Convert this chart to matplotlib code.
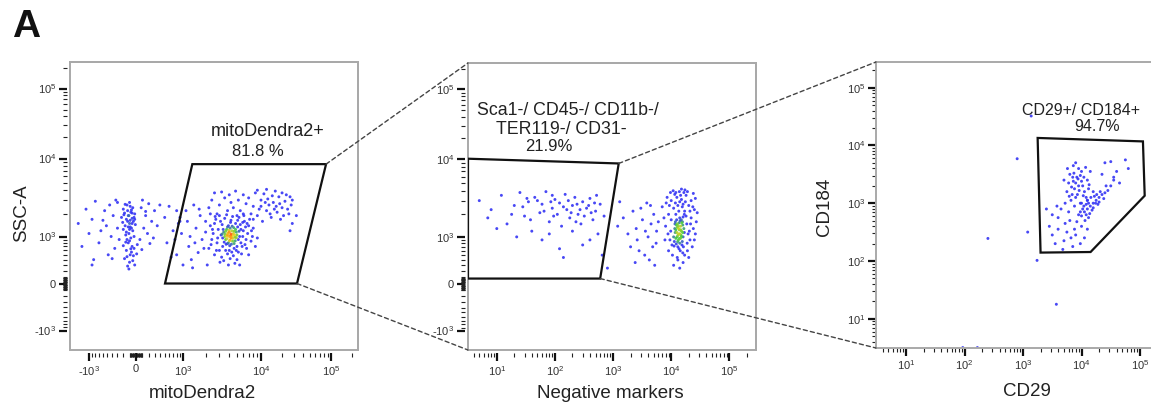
import numpy as np
import matplotlib
matplotlib.use('Agg')
import matplotlib.pyplot as plt
from matplotlib.patches import Polygon, ConnectionPatch, Rectangle
from matplotlib.colors import LinearSegmentedColormap
from matplotlib.ticker import NullFormatter

plt.rcParams['font.family'] = ['Liberation Sans', 'DejaVu Sans']
plt.rcParams['mathtext.fontset'] = 'custom'
plt.rcParams['mathtext.rm'] = 'Liberation Sans'
plt.rcParams['mathtext.it'] = 'Liberation Sans:italic'
plt.rcParams['mathtext.bf'] = 'Liberation Sans:bold'

# ---------------- data ----------------
panel_title = "A"
x_labels = ["mitoDendra2", "Negative markers", "CD29"]
y_labels = ["SSC-A", None, "CD184"]
gate_labels = [["mitoDendra2+", "81.8 %"],
               ["Sca1-/ CD45-/ CD11b-/", "TER119-/ CD31-", "21.9%"],
               ["CD29+/ CD184+", "94.7%"]]

biex_major = [-1e3, 0, 1e3, 1e4, 1e5]
biex_major_labels = ['-10$^3$', '0', '10$^3$', '10$^4$', '10$^5$']
log_major = [1e1, 1e2, 1e3, 1e4, 1e5]
log_major_labels = ['10$^1$', '10$^2$', '10$^3$', '10$^4$', '10$^5$']

# Panel 1 events: (mitoDendra2, SSC-A)
mito_events = [
    # left (Dendra2-negative) cluster
    (-120,1900),(-80,2100),(-150,1700),(-60,1500),(-200,2300),(-100,1250),(-30,1800),(-170,1400),(-90,1650),(-140,2600),
    (-50,2400),(-110,1100),(-190,1950),(-70,1300),(-20,2000),(-130,2200),(-160,1050),(-40,1600),(-100,2800),(-210,1550),
    (-80,950),(-120,1350),(-60,1750),(-180,2050),(-10,1450),(-150,1150),(-90,2500),(-230,1800),(-50,1200),(-130,1600),
    (-70,2250),(-110,1900),(-30,1000),(-170,2650),(-200,1250),(-100,1500),(-60,2050),(-140,900),(-20,1700),(-90,1350),
    (-120,800),(-60,700),(-150,600),(-90,500),(-30,650),(-180,420),(-100,350),(-40,480),(-130,280),(-70,560),
    (20,750),(-200,720),(-110,230),(-50,380),(-160,820),(10,520),(-80,640),(-140,460),(-20,300),(-100,860),
    (-450,2600),(-380,1900),(-520,1400),(-300,2800),(-650,1200),(-420,1000),(-350,650),(-560,2200),(-300,1300),(-700,800),
    (-480,500),(-330,3000),(-600,1650),(-270,900),(-400,420),
    (80,2400),(150,1900),(120,1300),(200,2700),(60,900),(250,1600),(180,1100),(100,3000),(300,2200),(90,620),
    (220,780),(350,1400),(150,2150),(400,2600),(280,950),
    (-1400,1500),(-1100,2300),(-900,1700),(-800,2900),(-1000,1100),(-1250,700),(-850,400),(-900,300),
    (500,1800),(600,2500),(700,1200),(800,2200),(550,800),(650,450),(900,1600),
    # main cluster core
    (4000,1000),(4200,950),(3800,1050),(4500,1100),(3600,900),(4300,1200),(3900,800),(4700,980),(3400,1150),(5000,1050),
    (4100,1300),(3700,1250),(4400,850),(3500,1000),(4800,1250),(4000,1150),(3300,950),(5200,900),(4600,780),(3800,1350),
    (4200,1080),(3600,1180),(4900,1150),(4100,880),(3950,1220),(4350,1020),(3750,930),(4550,1320),(3450,820),(5300,1180),
    (4050,720),(3850,1120),(4650,1050),(3550,1080),(4250,760),(5100,1350),(3350,1250),(4450,940),(3650,760),(4750,860),
    (3900,1400),(4150,1030),(3700,1020),(4600,1180),(4000,860),(5400,1000),(3250,1080),(4350,1380),(3800,780),(4900,960),
    # main cluster ring
    (2500,1100),(2800,800),(2300,1400),(3000,600),(2700,1700),(6000,1200),(6500,900),(7000,1400),(5800,700),(6200,1600),
    (2600,500),(3200,450),(3800,520),(4500,480),(5200,560),(5600,800),(6800,1100),(7500,850),(8000,1300),(3100,1600),
    (3500,1750),(4200,1650),(4800,1500),(5500,1450),(6100,1900),(2400,900),(2900,1250),(3300,700),(4000,600),(4600,650),
    (5000,700),(5900,1000),(6600,650),(7200,1700),(2200,650),(2600,1500),(3000,1900),(3700,1950),(4400,1850),(5300,1800),
    (6400,1350),(2750,600),(3400,380),(4100,420),(5000,400),(5700,520),(7800,1000),(8500,700),(2450,1250),(3150,1050),
    (3600,600),(4300,560),(4900,600),(5600,1250),(6300,750),(7000,500),(2850,950),(3050,350),(3900,300),(4700,330),
    (5400,300),(2350,750),(6700,1500),(7600,1200),(9000,950),(2650,1850),(3250,1450),(4150,1550),(5100,1650),(5900,1550),
    # upper-right diffuse part
    (8000,2500),(10000,3000),(12000,2200),(15000,2800),(9000,1900),(18000,3300),(20000,2400),(11000,3600),(14000,1800),(7000,3200),
    (22000,2900),(25000,2000),(16000,3900),(13000,2600),(9500,2300),(19000,1700),(27000,2600),(8500,3700),(12500,3100),(17000,2100),
    (6500,2700),(23000,3500),(10500,1600),(14500,3400),(21000,1900),(7500,2000),(11500,2800),(28000,3000),(16500,2500),(9000,4000),
    (13500,2000),(24000,2300),(6000,3500),(18500,2700),(20000,3700),(8000,1700),(15500,2300),(26000,3300),(12000,4100),(10000,2500),
    (3000,2600),(3500,3200),(4200,2800),(2600,3700),(4800,3900),(3800,2200),(5200,3000),(2200,2400),(4500,2400),(5500,2200),
    (3200,3800),(4000,3500),(2800,2000),(6000,2000),(5000,1900),(2400,3000),
    (28000,1500),(32000,1900),(26000,1200),
    # sparse events in the left part of the gate
    (900,1800),(1200,700),(1500,1300),(800,500),(1100,2200),(1800,900),(1300,400),(2000,1600),(950,1100),(1600,550),
    (1400,2600),(2100,300),(1000,300),(1700,1900),(1250,1000),(2300,2000),(850,1500),(1900,650),(1150,1600),(1450,800),
    (2000,1150),(1350,250),(750,900),(1650,2300),
]

# Panel 2 events: (Negative markers, SSC-A)
neg_events = [
    (5,3000),(8,2300),(12,3500),(15,1500),(20,2600),(25,3800),(30,1900),(35,2900),(40,1200),(45,3300),
    (55,2100),(60,2700),(70,3900),(80,1600),(90,2400),(100,3100),(110,2000),(120,2800),(130,1400),(150,3600),
    (160,2300),(180,1800),(200,2600),(220,3300),(250,2000),(280,1500),(300,2900),(350,2400),(400,3200),(450,1700),
    (500,2200),(550,1100),(600,2700),(650,500),(700,1900),(120,650),(60,900),(200,1200),(300,750),(80,1100),
    (10,1300),(18,2000),(28,2500),(38,1700),(50,3000),(65,2200),(85,2900),(95,1900),(140,2500),(170,3000),
    (190,2100),(240,2700),(270,2300),(320,1900),(380,2600),(420,2100),(480,2800),(520,3500),(90,3500),(230,1600),
    (7,1800),(22,1000),(140,450),(400,900),(33,3200),(800,250),
    # CD-positive cluster core
    (13500,1100),(12000,950),(15000,1200),(14000,800),(11500,1300),(16000,1000),(12800,1500),(14500,1400),(13000,700),(15500,850),
    (12500,1150),(14200,1650),(11000,1000),(16500,1300),(13800,1250),(12200,780),(15200,1550),(13300,900),(14800,1050),(11800,1600),
    (16200,700),(12700,1350),(14000,1800),(13000,1050),(15800,1450),(11300,850),(14400,950),(12400,1700),(16800,1150),(13600,650),
    (15000,1000),(12000,1250),(14600,1250),(13200,1400),(11700,1150),(15600,1600),(12900,850),(14100,1100),(13700,1550),(12600,1000),
    (16000,1850),(11200,720),(15300,750),(13400,1300),(14900,1700),(12300,1450),(13900,950),(15700,1150),(11600,1500),(14300,600),
    # cluster outskirts
    (9000,2000),(10000,3000),(12000,3800),(15000,4200),(18000,3500),(20000,2600),(22000,1800),(25000,2300),(8000,1400),(9500,900),
    (10500,500),(13000,400),(16000,350),(19000,600),(21000,900),(24000,1300),(7000,2500),(11000,2400),(14000,2900),(17000,2200),
    (19000,3900),(26000,3200),(8500,3300),(12500,3300),(15500,2500),(18500,1500),(23000,700),(9000,600),(11500,3600),(13500,2200),
    (16500,3800),(20500,1200),(27000,1600),(7500,1800),(10000,1700),(12000,2000),(14500,3500),(17500,2900),(22000,3000),(9800,1200),
    (20000,450),(11000,300),(14000,250),(17000,500),(25000,900),(7800,900),(10800,4000),(13000,2600),(16000,2700),(18000,1900),
    (21000,2200),(8200,2800),(9300,2600),(11800,2800),(15000,3100),(17200,4100),(23500,2500),(28000,2100),(19500,1100),(16800,2000),
    (12700,450),(10300,750),(8800,1100),(24000,3700),(13800,3900),(9700,3800),(15800,550),(18800,800),(21500,1500),(26000,1100),
    # between the populations
    (1500,1800),(2000,700),(2500,1300),(3000,2400),(3500,500),(4000,1000),(4500,1500),(5000,2000),(5500,800),(1800,1100),
    (2200,2200),(2800,600),(3200,1700),(3800,2800),(4200,400),(4800,700),(5600,1200),(6000,1600),(2600,900),(1300,2900),
    (3600,1200),(4400,2600),(1200,1400),(2400,350),(5200,300),
]

# Panel 3 events, log10 of (CD29, CD184)
cd_events_log10 = [
    (3.95,3.3),(3.85,3.45),(4.05,3.2),(3.9,3.1),(3.78,3.35),(4.0,3.55),(3.88,3.25),(4.1,3.4),(3.82,3.05),(3.95,3.6),
    (4.02,3.3),(3.75,3.2),(3.92,3.45),(4.08,3.1),(3.86,3.65),(3.98,3.0),(3.8,3.5),(4.12,3.25),(3.9,3.35),(3.72,3.0),
    (4.04,3.45),(3.84,3.15),(3.96,3.22),(4.15,3.55),(3.88,2.95),(3.76,3.6),(4.0,3.38),(3.93,3.15),(3.83,3.28),(4.07,3.62),
    (3.98,3.48),(3.7,3.4),(3.9,3.7),(4.1,3.05),(3.87,3.52),(4.03,3.13),(3.79,3.12),(3.94,3.42),(4.13,3.32),(3.86,3.38),
    (4.0,2.78),(4.05,2.85),(4.1,2.9),(4.15,2.95),(4.2,3.0),(4.25,3.05),(4.3,3.1),(4.35,3.15),(4.4,3.18),(4.45,3.22),
    (4.02,2.9),(4.08,2.8),(4.12,3.0),(4.18,2.88),(4.22,3.12),(4.28,2.98),(4.32,3.2),(4.06,2.7),(4.14,2.82),(4.0,3.0),
    (4.1,3.05),(4.2,2.92),(4.24,3.0),(4.04,2.95),(4.16,3.1),(4.26,3.15),(4.38,3.08),(3.98,2.85),(4.08,2.98),(4.12,2.75),
    (4.2,3.2),(4.3,3.02),(4.42,3.3),(4.5,3.3),(4.55,3.4),
    (3.5,2.8),(3.6,2.55),(3.7,2.35),(3.8,2.7),(3.9,2.45),(4.0,2.6),(3.55,2.3),(3.65,2.9),(3.75,2.5),(3.85,2.25),
    (3.95,2.8),(3.45,2.6),(3.72,2.65),(3.88,2.55),(3.6,2.75),(4.05,2.4),(3.82,2.4),(3.68,2.2),(3.5,2.45),(3.92,2.68),
    (3.4,2.9),(3.78,2.85),(4.1,2.55),(3.58,2.95),(3.98,2.3),
    (4.5,3.72),(4.75,3.75),(4.8,3.6),(4.6,3.55),(4.55,3.45),(4.35,3.5),(4.4,3.7),(4.65,3.35),
    (3.14,4.51),(2.9,3.77),(2.4,2.39),(3.08,2.5),(3.24,2.01),(3.57,1.25),(1.97,0.5),(2.22,0.5),
]

# gates (data units)
gate1 = [(507, 0), (1340, 8500), (85000, 8500), (32700, 0)]
gate2_right = [(1250, 8830), (600, 80)]
gate2_left_y = [10150, 80]
gate3_log10 = [(3.25, 4.13), (5.05, 4.07), (5.08, 3.13), (4.155, 2.155), (3.30, 2.145)]

# ---------------- biexponential-like scale ----------------
LIN_W = 500.0
KNOT_V = np.array([-1e7, -1e5, -1e4, -1e3, 0.0, 1e3, 1e4, 1e5, 1e7])
KNOT_P = np.array([-334.0, -195.0, -125.0, -47.0, 0.0, 47.0, 125.0, 195.0, 334.0])
KNOT_U = np.arcsinh(KNOT_V / LIN_W)


def biex_fwd(v):
    return np.interp(np.arcsinh(np.asarray(v, dtype=float) / LIN_W), KNOT_U, KNOT_P)


def biex_inv(p):
    return LIN_W * np.sinh(np.interp(np.asarray(p, dtype=float), KNOT_P, KNOT_U))


biex_minor = sorted(set(
    [s * k * m for s in (-1, 1) for m in (10, 100) for k in range(1, 10)]
    + [k * m for m in (1e3, 1e4, 1e5) for k in range(2, 10)]
    + [-k * 1e3 for k in range(2, 10)]))
log_minor = [k * 10.0 ** m for m in range(0, 6) for k in range(2, 10)]

# ---------------- figure ----------------
W, H = 1151, 404
fig = plt.figure(figsize=(W / 100, H / 100), dpi=100)


def box(l, t, w, h):
    return [l / W, 1 - (t + h) / H, w / W, h / H]


ax1 = fig.add_axes(box(70, 62, 288, 288))
ax2 = fig.add_axes(box(468, 63, 288, 287))
ax3 = fig.add_axes(box(876, 62, 288, 286))

TXT = '#222222'
FRAME = '#a9a9a9'

for ax in (ax1, ax2, ax3):
    for s in ax.spines.values():
        s.set_color(FRAME)
        s.set_linewidth(1.4)
    ax.tick_params(which='major', direction='out', length=6, width=1.6, color='#111111',
                   labelsize=8, labelcolor='#333333', pad=1.5)
    ax.tick_params(which='minor', direction='out', length=3, width=0.8, color='#222222')

for ax in (ax1, ax2):
    for side in ('left', 'bottom'):
        ax.spines[side].set_position(('outward', 2.5))
        ax.spines[side].set_visible(False)
    ax.add_patch(Rectangle((0, 0), 1, 1, transform=ax.transAxes, fill=False,
                           ec=FRAME, lw=1.4, clip_on=False, zorder=0.5))

# scales
ax1.set_xscale('function', functions=(biex_fwd, biex_inv))
ax1.set_yscale('function', functions=(biex_fwd, biex_inv))
ax2.set_xscale('log')
ax2.set_yscale('function', functions=(biex_fwd, biex_inv))
ax3.set_xscale('log')
ax3.set_yscale('log')

# ticks first (set_ticks may widen the limits), limits afterwards
for axis in (ax1.xaxis, ax1.yaxis, ax2.yaxis):
    axis.set_ticks(biex_major, biex_major_labels)
    axis.set_ticks([t for t in biex_minor if t not in biex_major], minor=True)
    axis.set_minor_formatter(NullFormatter())
for axis in (ax2.xaxis, ax3.xaxis, ax3.yaxis):
    axis.set_ticks(log_major, log_major_labels)
    axis.set_ticks(log_minor, minor=True)
    axis.set_minor_formatter(NullFormatter())

ax1.set_xlim(biex_inv(-66), biex_inv(222))
ax1.set_ylim(biex_inv(-66.5), biex_inv(221.5))
ax2.set_ylim(biex_inv(-66.5), biex_inv(221.5))
ax2_xmin = 10 ** 0.505
ax2.set_xlim(ax2_xmin, 10 ** 5.458)
ax3.set_xlim(10 ** 0.487, 10 ** 5.41)
ax3.set_ylim(10 ** 0.493, 10 ** 5.445)

# density colouring (absolute neighbour counts, like a pseudocolour plot)
cmap = LinearSegmentedColormap.from_list('flow', [
    (0.0, '#3434f4'), (0.42, '#3434f4'), (0.58, '#3fcf3f'),
    (0.76, '#e8d020'), (0.88, '#ff8a10'), (1.0, '#ff2a10')])
FULL_COUNT = 30.0


def draw_events(ax, x, y, radius=7.0, size=4.5):
    x = np.asarray(x, float)
    y = np.asarray(y, float)
    pts = ax.transData.transform(np.column_stack([x, y]))
    d2 = ((pts[:, None, :] - pts[None, :, :]) ** 2).sum(-1)
    n = (d2 < radius ** 2).sum(1) - 1
    t = np.clip(n / FULL_COUNT, 0, 1)
    order = np.argsort(t, kind='stable')
    ax.scatter(x[order], y[order], c=cmap(t[order]), s=size, marker='o',
               linewidths=0, alpha=0.9, zorder=2)


m = np.array(mito_events, float)
draw_events(ax1, m[:, 0], m[:, 1])
nm = np.array(neg_events, float)
draw_events(ax2, nm[:, 0], nm[:, 1])
c = 10 ** np.array(cd_events_log10, float)
draw_events(ax3, c[:, 0], c[:, 1])

# gates
GATE_KW = dict(closed=True, fill=False, ec='#111111', lw=1.6, zorder=3)
ax1.add_patch(Polygon(gate1, **GATE_KW))
g2 = [(ax2_xmin, gate2_left_y[0]), gate2_right[0], gate2_right[1], (ax2_xmin, gate2_left_y[1])]
ax2.add_patch(Polygon(g2, **GATE_KW))
g3 = [tuple(10 ** np.array(p)) for p in gate3_log10]
ax3.add_patch(Polygon(g3, **GATE_KW))

# gate labels
LAB = dict(ha='center', va='center', color=TXT, zorder=5)
ax1.text(0.688, 0.757, gate_labels[0][0], transform=ax1.transAxes, fontsize=13, **LAB)
ax1.text(0.654, 0.688, gate_labels[0][1], transform=ax1.transAxes, fontsize=12, **LAB)
ax2.text(0.346, 0.836, gate_labels[1][0], transform=ax2.transAxes, fontsize=12.8, **LAB)
ax2.text(0.325, 0.770, gate_labels[1][1], transform=ax2.transAxes, fontsize=12.8, **LAB)
ax2.text(0.282, 0.708, gate_labels[1][2], transform=ax2.transAxes, fontsize=12, **LAB)
ax3.text(0.711, 0.832, gate_labels[2][0], transform=ax3.transAxes, fontsize=11.5, **LAB)
ax3.text(0.766, 0.776, gate_labels[2][1], transform=ax3.transAxes, fontsize=11.5, **LAB)

# axis labels
fig.text(202 / W, 1 - 393 / H, x_labels[0], ha='center', va='center', fontsize=13.5, color=TXT)
fig.text(610 / W, 1 - 393 / H, x_labels[1], ha='center', va='center', fontsize=13.5, color=TXT)
fig.text(1027 / W, 1 - 392 / H, x_labels[2], ha='center', va='center', fontsize=13.5, color=TXT)
fig.text(22 / W, 1 - 213 / H, y_labels[0], ha='center', va='center', rotation=90, fontsize=13.5, color=TXT)
fig.text(825 / W, 1 - 207 / H, y_labels[2], ha='center', va='center', rotation=90, fontsize=13.5, color=TXT)

fig.text(12 / W, 1 - 9 / H, panel_title, ha='left', va='top', fontsize=28, fontweight='bold', color='#111111')

# dashed connectors from gate corners to the next panel
CON = dict(color='#444444', lw=1.0, linestyle=(0, (3, 2.2)), zorder=10)
for xyA, axA, xyB, axB in [
        (gate1[2], ax1, (0, 1), ax2),
        (gate1[3], ax1, (0, 0), ax2),
        (gate2_right[0], ax2, (0, 1), ax3),
        (gate2_right[1], ax2, (0, 0), ax3)]:
    con = ConnectionPatch(xyA=xyA, coordsA=axA.transData, xyB=xyB, coordsB=axB.transAxes, **CON)
    fig.add_artist(con)

fig.savefig('out.png', dpi=100)
